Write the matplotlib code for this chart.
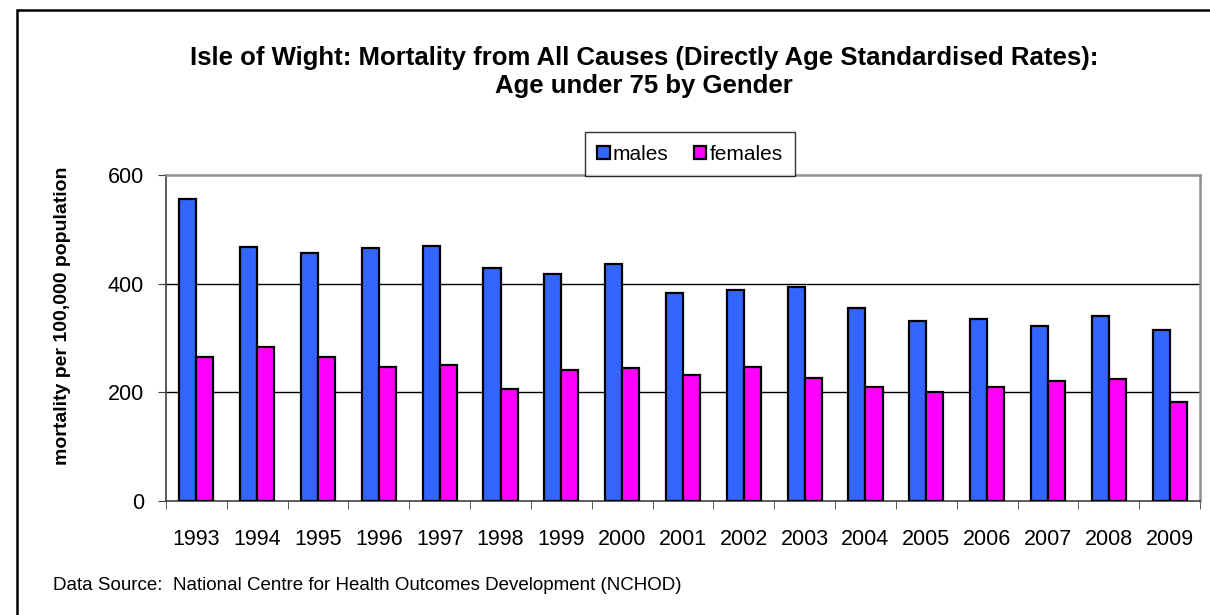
import matplotlib
matplotlib.use("Agg")
import matplotlib.pyplot as plt
from matplotlib.patches import Rectangle, Patch
from matplotlib.ticker import FixedLocator, NullFormatter
import numpy as np

plt.rcParams['font.family'] = ['Liberation Sans', 'DejaVu Sans']

years = ['1993', '1994', '1995', '1996', '1997', '1998', '1999', '2000', '2001',
         '2002', '2003', '2004', '2005', '2006', '2007', '2008', '2009']
males = [555, 468, 457, 466, 470, 429, 418, 436, 382,
         388, 394, 356, 332, 335, 322, 340, 315]
females = [265, 283, 265, 246, 251, 207, 241, 245, 232,
           246, 226, 210, 200, 209, 221, 225, 182]
yticks = [0, 200, 400, 600]

W, H = 1210, 615
fig = plt.figure(figsize=(W / 100, H / 100), dpi=100)

# outer chart border (right and bottom edges are cut off in the reference)
fig.add_artist(Rectangle((17 / W, -0.2), 1.2, 1.2 - 10 / H,
                         transform=fig.transFigure, fill=False,
                         edgecolor='black', linewidth=1.8))

ax = fig.add_axes([166 / W, (H - 501) / H, (1200 - 166) / W, (501 - 175) / H])

x = np.arange(len(years))
bw = 0.28
ax.bar(x - bw / 2, males, bw, color='#3366FF', edgecolor='black', linewidth=1.6,
       zorder=3, label='males')
ax.bar(x + bw / 2, females, bw, color='#FF00FF', edgecolor='black', linewidth=1.6,
       zorder=3, label='females')

ax.set_xlim(-0.5, len(years) - 0.5)
ax.set_ylim(0, 600)
ax.set_yticks(yticks)
ax.tick_params(axis='y', labelsize=15.5, length=6, direction='out', pad=10,
               color='#404040')

# year labels centred under groups, tick marks between groups
ax.set_xticks(x)
ax.set_xticklabels(years)
ax.tick_params(axis='x', which='major', length=0, labelsize=15.5, pad=20)
ax.xaxis.set_minor_locator(FixedLocator(np.arange(-0.5, len(years), 1.0)))
ax.xaxis.set_minor_formatter(NullFormatter())
ax.tick_params(axis='x', which='minor', length=6, direction='out', color='#404040')

for v in [200, 400]:
    ax.axhline(v, color='black', linewidth=1.0, zorder=1)

ax.spines['top'].set_color('#909090')
ax.spines['right'].set_color('#909090')
ax.spines['top'].set_linewidth(1.8)
ax.spines['right'].set_linewidth(1.8)
ax.spines['left'].set_color('#404040')
ax.spines['bottom'].set_color('#404040')
ax.spines['left'].set_linewidth(1.2)
ax.spines['bottom'].set_linewidth(1.2)

fig.text(63 / W, 1 - 316 / H, 'mortality per 100,000 population', rotation=90,
         ha='center', va='center', fontsize=14, fontweight='bold')

fig.text(644 / W, 1 - 65 / H,
         'Isle of Wight: Mortality from All Causes (Directly Age Standardised Rates):',
         ha='center', va='baseline', fontsize=18.5, fontweight='bold')
fig.text(644 / W, 1 - 93 / H, 'Age under 75 by Gender',
         ha='center', va='baseline', fontsize=18.5, fontweight='bold')

handles = [Patch(facecolor='#3366FF', edgecolor='black', linewidth=1.6),
           Patch(facecolor='#FF00FF', edgecolor='black', linewidth=1.6)]
leg = fig.legend(handles, ['males', 'females'], loc='center',
                 bbox_to_anchor=(690 / W, 1 - 154 / H), ncol=2, fontsize=15,
                 frameon=True, fancybox=False, edgecolor='black',
                 handlelength=0.6, handleheight=0.6, handletextpad=0.15,
                 columnspacing=1.2, borderpad=0.6)
leg.get_frame().set_linewidth(1.0)

fig.text(53 / W, 1 - 590 / H,
         'Data Source:  National Centre for Health Outcomes Development (NCHOD)',
         ha='left', va='baseline', fontsize=13.5)

fig.savefig('out.png', dpi=100)
